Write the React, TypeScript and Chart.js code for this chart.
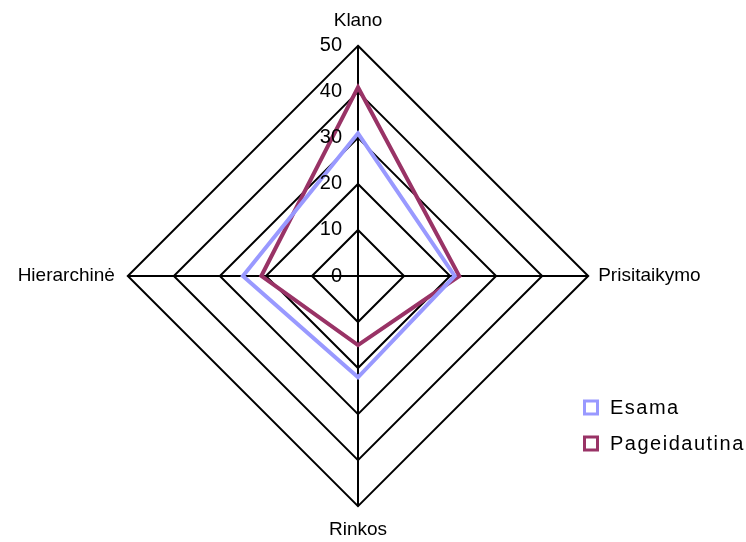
import { useEffect, useRef } from "react";
import { Chart, registerables } from "chart.js";

Chart.register(...registerables);

// Radar axes (clockwise from the top)
const axes = ["Klano", "Prisitaikymo", "Rinkos", "Hierarchinė"];
// Series values per axis
const esama = [31, 21, 22, 25];
const pageidautina = [41, 22, 15, 21];
// Ring labels on the vertical axis
const tickValues = [0, 10, 20, 30, 40, 50];
const seriesNames = ["Esama", "Pageidautina"];
const seriesColors = ["#9999FF", "#993366"];
// Gap between each axis end and its label
const labelGaps = [14, 10, 12, 13];

const FONT = "'Liberation Sans', Arial, sans-serif";

// Ring values written just left of the vertical axis
const tickLabelsPlugin = {
  id: "tickLabels",
  afterDatasetsDraw(chart: any) {
    const s = chart.scales.r;
    const ctx = chart.ctx;
    ctx.save();
    ctx.font = `20px ${FONT}`;
    ctx.fillStyle = "#000";
    ctx.textAlign = "right";
    ctx.textBaseline = "middle";
    for (const v of tickValues) {
      const y = s.yCenter - s.getDistanceFromCenterForValue(v);
      ctx.fillText(String(v), s.xCenter - 16, y);
    }
    ctx.restore();
  },
};

// Legend in the lower right corner, square outlined markers
const cornerLegendPlugin = {
  id: "cornerLegend",
  afterDraw(chart: any) {
    const ctx = chart.ctx;
    ctx.save();
    ctx.font = `20px ${FONT}`;
    (ctx as any).letterSpacing = "1.5px";
    ctx.textBaseline = "middle";
    ctx.textAlign = "left";
    chart.data.datasets.forEach((ds: any, i: number) => {
      const cy = 407 + i * 36;
      ctx.fillStyle = "#fff";
      ctx.fillRect(584.5, cy - 6, 13, 13);
      ctx.lineWidth = 3;
      ctx.strokeStyle = ds.borderColor;
      ctx.strokeRect(584.5, cy - 6, 13, 13);
      ctx.fillStyle = "#000";
      ctx.fillText(ds.label, 610, cy + 1);
    });
    ctx.restore();
  },
};

export default function App() {
  const canvasRef = useRef<HTMLCanvasElement | null>(null);

  useEffect(() => {
    if (!canvasRef.current) return;
    const chart = new Chart(canvasRef.current, {
      type: "radar",
      data: {
        labels: axes,
        datasets: [
          {
            label: seriesNames[0],
            data: esama,
            borderColor: seriesColors[0],
            backgroundColor: "transparent",
            borderWidth: 4,
            fill: false,
            pointRadius: 0,
            pointHoverRadius: 0,
            tension: 0,
          },
          {
            label: seriesNames[1],
            data: pageidautina,
            borderColor: seriesColors[1],
            backgroundColor: "transparent",
            borderWidth: 4,
            fill: false,
            pointRadius: 0,
            pointHoverRadius: 0,
            tension: 0,
          },
        ],
      },
      options: {
        animation: false,
        responsive: false,
        layout: { padding: { left: 7, right: 33, top: 8, bottom: -5 } },
        plugins: {
          legend: { display: false },
          tooltip: { enabled: false },
        },
        scales: {
          r: {
            min: 0,
            max: 50,
            startAngle: 0,
            ticks: { stepSize: 10, display: false },
            grid: { color: "#000", lineWidth: 2, circular: false },
            angleLines: { color: "#000", lineWidth: 2 },
            pointLabels: {
              color: "#000",
              padding: (ctx: any) => labelGaps[ctx.index] ?? 10,
              font: { size: 19, family: FONT },
            },
          },
        },
      },
      plugins: [tickLabelsPlugin, cornerLegendPlugin],
    });
    return () => chart.destroy();
  }, []);

  return (
    <div style={{ position: "absolute", left: 0, top: 0, width: 746, height: 542, background: "#fff" }}>
      <canvas ref={canvasRef} width={746} height={542} />
    </div>
  );
}
